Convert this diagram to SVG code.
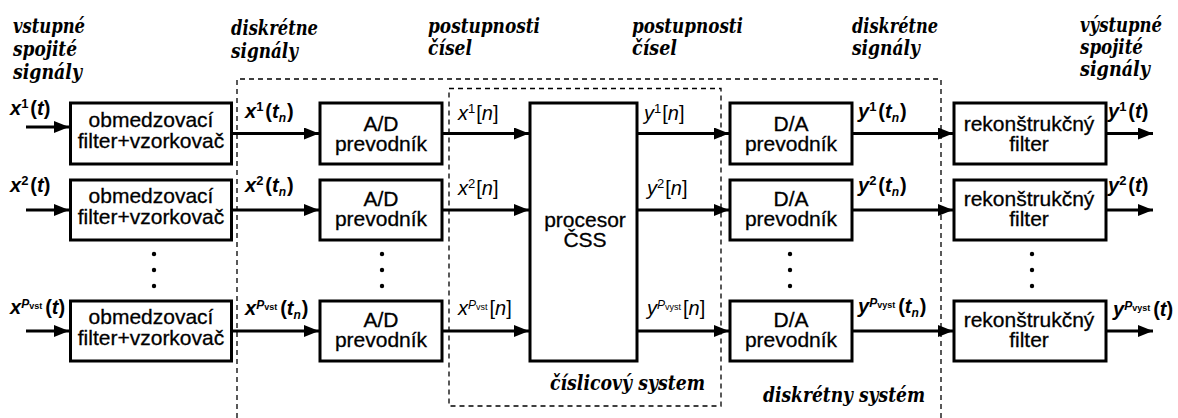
<svg xmlns="http://www.w3.org/2000/svg" width="1178" height="418" viewBox="0 0 1178 418">
  <style>
    .box { fill: #fff; stroke: #000; stroke-width: 3; }
    .wire { fill: none; stroke: #000; stroke-width: 3; marker-end: url(#ah); }
    .dash { fill: none; stroke: #000; stroke-width: 1.3; stroke-dasharray: 5 4; }
    .bt { font-family: "Liberation Sans", Arial, sans-serif; font-size: 21px; text-anchor: middle; fill: #000; stroke: #000; stroke-width: 0.3; }
    .cap { font-family: "DejaVu Serif", "Liberation Serif", serif; font-size: 20px; font-weight: bold; font-style: italic; fill: #000; }
    .lb { font-family: "Liberation Sans", Arial, sans-serif; font-size: 20px; font-weight: bold; fill: #000; }
    .ln { font-family: "Liberation Sans", Arial, sans-serif; font-size: 20px; font-weight: normal; fill: #000; }
    .i { font-style: italic; }
    .sup { font-size: 13px; font-style: normal; }
    .sub { font-size: 12px; font-style: italic; }
    .pp { font-size: 12px; font-style: italic; }
    .pv { font-size: 9px; font-style: normal; }
  </style>
  <defs>
    <marker id="ah" markerUnits="userSpaceOnUse" markerWidth="15" markerHeight="12" refX="15" refY="6" orient="auto">
      <path d="M0,0 L15,6 L0,12 Z" fill="#000"/>
    </marker>
  </defs>

  <!-- dashed system boundaries -->
  <g id="boundaries">
    <path class="dash" d="M237,418 V79 H941 V418"/>
    <rect class="dash" x="449" y="88.5" width="272" height="317.5"/>
  </g>

  <!-- section captions -->
  <g id="captions">
    <text class="cap" x="13" y="33" textLength="72" lengthAdjust="spacingAndGlyphs">vstupné</text>
    <text class="cap" x="13" y="56" textLength="64" lengthAdjust="spacingAndGlyphs">spojité</text>
    <text class="cap" x="13" y="79" textLength="69" lengthAdjust="spacingAndGlyphs">signály</text>
    <text class="cap" x="231" y="35" textLength="87" lengthAdjust="spacingAndGlyphs">diskrétne</text>
    <text class="cap" x="231" y="58" textLength="67" lengthAdjust="spacingAndGlyphs">signály</text>
    <text class="cap" x="428" y="33" textLength="112" lengthAdjust="spacingAndGlyphs">postupnosti</text>
    <text class="cap" x="428" y="55" textLength="44" lengthAdjust="spacingAndGlyphs">čísel</text>
    <text class="cap" x="632" y="33" textLength="111" lengthAdjust="spacingAndGlyphs">postupnosti</text>
    <text class="cap" x="632" y="55" textLength="45" lengthAdjust="spacingAndGlyphs">čísel</text>
    <text class="cap" x="852" y="33" textLength="86" lengthAdjust="spacingAndGlyphs">diskrétne</text>
    <text class="cap" x="852" y="55" textLength="68" lengthAdjust="spacingAndGlyphs">signály</text>
    <text class="cap" x="1080" y="32" textLength="82" lengthAdjust="spacingAndGlyphs">výstupné</text>
    <text class="cap" x="1080" y="54" textLength="63" lengthAdjust="spacingAndGlyphs">spojité</text>
    <text class="cap" x="1080" y="76" textLength="70" lengthAdjust="spacingAndGlyphs">signály</text>
    <text class="cap" x="550" y="390" textLength="155" lengthAdjust="spacingAndGlyphs">číslicový system</text>
    <text class="cap" x="763" y="402" textLength="162" lengthAdjust="spacingAndGlyphs">diskrétny systém</text>
  </g>

  <!-- connectors -->
  <g id="connectors">
    <line class="wire" x1="26" y1="127" x2="69" y2="127"/>
    <line class="wire" x1="26" y1="210" x2="69" y2="210"/>
    <line class="wire" x1="26" y1="331" x2="69" y2="331"/>

    <line class="wire" x1="232" y1="133.5" x2="319" y2="133.5"/>
    <line class="wire" x1="232" y1="210" x2="319" y2="210"/>
    <line class="wire" x1="232" y1="331" x2="319" y2="331"/>

    <line class="wire" x1="442" y1="133.5" x2="529" y2="133.5"/>
    <line class="wire" x1="442" y1="210" x2="529" y2="210"/>
    <line class="wire" x1="442" y1="331" x2="529" y2="331"/>

    <line class="wire" x1="637" y1="133.5" x2="729" y2="133.5"/>
    <line class="wire" x1="637" y1="210" x2="729" y2="210"/>
    <line class="wire" x1="637" y1="331" x2="729" y2="331"/>

    <line class="wire" x1="852" y1="133.5" x2="953" y2="133.5"/>
    <line class="wire" x1="852" y1="210" x2="953" y2="210"/>
    <line class="wire" x1="852" y1="331" x2="953" y2="331"/>

    <line class="wire" x1="1106" y1="133.5" x2="1153" y2="133.5"/>
    <line class="wire" x1="1106" y1="210" x2="1153" y2="210"/>
    <line class="wire" x1="1106" y1="331" x2="1153" y2="331"/>
  </g>

  <!-- signal labels -->
  <g id="signal-labels">
    <text class="lb" x="10" y="115"><tspan class="i">x</tspan><tspan class="sup" y="108">1</tspan><tspan y="115" dx="2">(</tspan><tspan class="i">t</tspan><tspan>)</tspan></text>
    <text class="lb" x="10" y="192"><tspan class="i">x</tspan><tspan class="sup" y="185">2</tspan><tspan y="192" dx="2">(</tspan><tspan class="i">t</tspan><tspan>)</tspan></text>
    <text class="lb" x="10" y="314"><tspan class="i">x</tspan><tspan class="pp" y="308">P</tspan><tspan class="pv" y="309">vst</tspan><tspan y="314" dx="3">(</tspan><tspan class="i">t</tspan><tspan>)</tspan></text>

    <text class="lb" x="245" y="118"><tspan class="i">x</tspan><tspan class="sup" y="111">1</tspan><tspan y="118" dx="2">(</tspan><tspan class="i">t</tspan><tspan class="sub" y="122">n</tspan><tspan y="118" dx="1">)</tspan></text>
    <text class="lb" x="245" y="192"><tspan class="i">x</tspan><tspan class="sup" y="185">2</tspan><tspan y="192" dx="2">(</tspan><tspan class="i">t</tspan><tspan class="sub" y="196">n</tspan><tspan y="192" dx="1">)</tspan></text>
    <text class="lb" x="245" y="315"><tspan class="i">x</tspan><tspan class="pp" y="309">P</tspan><tspan class="pv" y="310">vst</tspan><tspan y="315" dx="3">(</tspan><tspan class="i">t</tspan><tspan class="sub" y="319">n</tspan><tspan y="315" dx="1">)</tspan></text>

    <text class="ln" x="458" y="120"><tspan class="i">x</tspan><tspan class="sup" y="113">1</tspan><tspan y="120" dx="1">[</tspan><tspan class="i">n</tspan><tspan>]</tspan></text>
    <text class="ln" x="458" y="195"><tspan class="i">x</tspan><tspan class="sup" y="188">2</tspan><tspan y="195" dx="1">[</tspan><tspan class="i">n</tspan><tspan>]</tspan></text>
    <text class="ln" x="458" y="315"><tspan class="i">x</tspan><tspan class="pp" y="309">P</tspan><tspan class="pv" y="310">vst</tspan><tspan y="315" dx="2">[</tspan><tspan class="i">n</tspan><tspan>]</tspan></text>

    <text class="ln" x="644" y="120"><tspan class="i">y</tspan><tspan class="sup" y="113">1</tspan><tspan y="120" dx="1">[</tspan><tspan class="i">n</tspan><tspan>]</tspan></text>
    <text class="ln" x="647" y="195"><tspan class="i">y</tspan><tspan class="sup" y="188">2</tspan><tspan y="195" dx="1">[</tspan><tspan class="i">n</tspan><tspan>]</tspan></text>
    <text class="ln" x="647" y="315"><tspan class="i">y</tspan><tspan class="pp" y="309">P</tspan><tspan class="pv" y="310">vyst</tspan><tspan y="315" dx="2">[</tspan><tspan class="i">n</tspan><tspan>]</tspan></text>

    <text class="lb" x="858" y="118"><tspan class="i">y</tspan><tspan class="sup" y="111">1</tspan><tspan y="118" dx="2">(</tspan><tspan class="i">t</tspan><tspan class="sub" y="122">n</tspan><tspan y="118" dx="1">)</tspan></text>
    <text class="lb" x="858" y="192"><tspan class="i">y</tspan><tspan class="sup" y="185">2</tspan><tspan y="192" dx="2">(</tspan><tspan class="i">t</tspan><tspan class="sub" y="196">n</tspan><tspan y="192" dx="1">)</tspan></text>
    <text class="lb" x="858" y="313"><tspan class="i">y</tspan><tspan class="pp" y="307">P</tspan><tspan class="pv" y="308">vyst</tspan><tspan y="313" dx="3">(</tspan><tspan class="i">t</tspan><tspan class="sub" y="317">n</tspan><tspan y="313" dx="1">)</tspan></text>

    <text class="lb" x="1108" y="118"><tspan class="i">y</tspan><tspan class="sup" y="111">1</tspan><tspan y="118" dx="2">(</tspan><tspan class="i">t</tspan><tspan>)</tspan></text>
    <text class="lb" x="1108" y="192"><tspan class="i">y</tspan><tspan class="sup" y="185">2</tspan><tspan y="192" dx="2">(</tspan><tspan class="i">t</tspan><tspan>)</tspan></text>
    <text class="lb" x="1113" y="316"><tspan class="i">y</tspan><tspan class="pp" y="310">P</tspan><tspan class="pv" y="311">vyst</tspan><tspan y="316" dx="3">(</tspan><tspan class="i">t</tspan><tspan>)</tspan></text>
  </g>

  <!-- anti-aliasing filter + sampler blocks -->
  <g id="filter1"><rect class="box" x="70.5" y="103" width="161" height="61"/><text class="bt" x="151" y="127">obmedzovací</text><text class="bt" x="151" y="148">filter+vzorkovač</text></g>
  <g id="filter2"><rect class="box" x="70.5" y="180" width="161" height="60"/><text class="bt" x="151" y="203">obmedzovací</text><text class="bt" x="151" y="224">filter+vzorkovač</text></g>
  <g id="filter3"><rect class="box" x="70.5" y="301" width="161" height="60"/><text class="bt" x="151" y="324">obmedzovací</text><text class="bt" x="151" y="345">filter+vzorkovač</text></g>

  <!-- A/D converters -->
  <g id="adc1"><rect class="box" x="320" y="103" width="122" height="61"/><text class="bt" x="381" y="131">A/D</text><text class="bt" x="381" y="151">prevodník</text></g>
  <g id="adc2"><rect class="box" x="320" y="180" width="122" height="60"/><text class="bt" x="381" y="206">A/D</text><text class="bt" x="381" y="226">prevodník</text></g>
  <g id="adc3"><rect class="box" x="320" y="301" width="122" height="60"/><text class="bt" x="381" y="327">A/D</text><text class="bt" x="381" y="347">prevodník</text></g>

  <!-- DSP processor -->
  <g id="processor"><rect class="box" x="530" y="103" width="107" height="258"/><text class="bt" x="585" y="227">procesor</text><text class="bt" x="585" y="247">ČSS</text></g>

  <!-- D/A converters -->
  <g id="dac1"><rect class="box" x="730" y="103" width="122" height="61"/><text class="bt" x="791" y="131">D/A</text><text class="bt" x="791" y="151">prevodník</text></g>
  <g id="dac2"><rect class="box" x="730" y="180" width="122" height="60"/><text class="bt" x="791" y="206">D/A</text><text class="bt" x="791" y="226">prevodník</text></g>
  <g id="dac3"><rect class="box" x="730" y="301" width="122" height="60"/><text class="bt" x="791" y="327">D/A</text><text class="bt" x="791" y="347">prevodník</text></g>

  <!-- reconstruction filters -->
  <g id="recon1"><rect class="box" x="954" y="103" width="152" height="61"/><text class="bt" x="1029" y="131">rekonštrukčný</text><text class="bt" x="1029" y="151">filter</text></g>
  <g id="recon2"><rect class="box" x="954" y="180" width="152" height="60"/><text class="bt" x="1029" y="206">rekonštrukčný</text><text class="bt" x="1029" y="226">filter</text></g>
  <g id="recon3"><rect class="box" x="954" y="301" width="152" height="60"/><text class="bt" x="1029" y="327">rekonštrukčný</text><text class="bt" x="1029" y="347">filter</text></g>

  <!-- ellipsis dots between channel 2 and the last channel -->
  <g id="ellipsis" fill="#000">
    <circle cx="154" cy="254" r="2.2"/><circle cx="154" cy="270" r="2.2"/><circle cx="154" cy="286" r="2.2"/>
    <circle cx="382" cy="254" r="2.2"/><circle cx="382" cy="270" r="2.2"/><circle cx="382" cy="286" r="2.2"/>
    <circle cx="790" cy="254" r="2.2"/><circle cx="790" cy="270" r="2.2"/><circle cx="790" cy="286" r="2.2"/>
    <circle cx="1032" cy="254" r="2.2"/><circle cx="1032" cy="270" r="2.2"/><circle cx="1032" cy="286" r="2.2"/>
  </g>
</svg>
